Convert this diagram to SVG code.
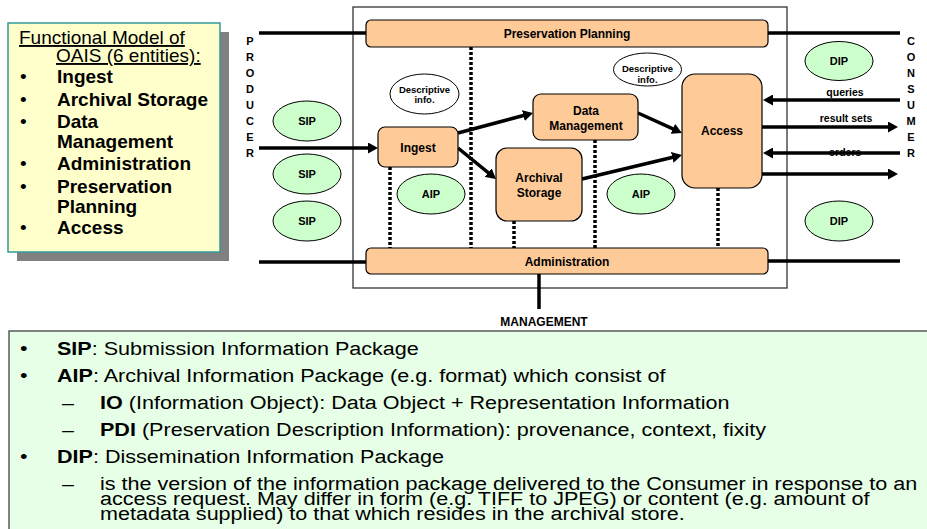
<svg xmlns="http://www.w3.org/2000/svg" width="927" height="529" viewBox="0 0 927 529">
  <style>
    text { font-family: "Liberation Sans", Arial, Helvetica, sans-serif; fill: #000; }
    .b { font-weight: bold; }
    .lbl { font-size: 12px; font-weight: bold; text-anchor: middle; }
    .pkg { font-size: 11px; font-weight: bold; text-anchor: middle; }
    .desc { font-size: 9.5px; font-weight: bold; text-anchor: middle; }
    .flow { font-size: 10.5px; font-weight: bold; text-anchor: middle; }
    .side { font-size: 11px; font-weight: bold; text-anchor: middle; }
    .box { fill: #fdca98; stroke: #000; stroke-width: 1.2; }
    .green { fill: #ccffcc; stroke: #000; stroke-width: 1; }
    .white { fill: #fff; stroke: #000; stroke-width: 1; }
    .wire { stroke: #000; stroke-width: 3.5; fill: none; }
    .arrow { stroke: #000; stroke-width: 3.5; fill: none; marker-end: url(#head); }
    .dots { stroke: #000; stroke-width: 3.5; stroke-dasharray: 3 2; fill: none; }
    .card { font-size: 19px; }
    .list { font-size: 19px; }
  </style>
  <defs>
    <marker id="head" markerUnits="userSpaceOnUse" markerWidth="10" markerHeight="11" refX="5" refY="5.5" orient="auto">
      <path d="M0,0 L10,5.5 L0,11 z" fill="#000"/>
    </marker>
  </defs>

  <rect width="927" height="529" fill="#fff"/>

  <!-- Summary card: the six functional entities -->
  <g id="entities-card">
    <rect x="17" y="32" width="212" height="229" fill="#808080"/>
    <rect x="8" y="23" width="212" height="229" fill="#ffffcc" stroke="#339999" stroke-width="1.5"/>
    <g class="card">
      <text x="19" y="44" text-decoration="underline">Functional Model of</text>
      <text x="56" y="62" text-decoration="underline">OAIS (6 entities):</text>
      <text x="20" y="83">•</text><text x="57" y="83" class="b">Ingest</text>
      <text x="20" y="106">•</text><text x="57" y="106" class="b">Archival Storage</text>
      <text x="20" y="128">•</text><text x="57" y="128" class="b">Data</text>
      <text x="57" y="148" class="b">Management</text>
      <text x="20" y="170">•</text><text x="57" y="170" class="b">Administration</text>
      <text x="20" y="193">•</text><text x="57" y="193" class="b">Preservation</text>
      <text x="57" y="213" class="b">Planning</text>
      <text x="20" y="234">•</text><text x="57" y="234" class="b">Access</text>
    </g>
  </g>

  <!-- OAIS boundary -->
  <rect id="oais-boundary" x="353" y="7" width="434" height="281" fill="none" stroke="#333" stroke-width="1.3"/>

  <!-- Producer / Consumer side labels -->
  <g id="producer">
    <text class="side" x="250" y="45">P</text>
    <text class="side" x="250" y="61">R</text>
    <text class="side" x="250" y="77">O</text>
    <text class="side" x="250" y="93">D</text>
    <text class="side" x="250" y="109">U</text>
    <text class="side" x="250" y="125">C</text>
    <text class="side" x="250" y="141">E</text>
    <text class="side" x="250" y="157">R</text>
  </g>
  <g id="consumer">
    <text class="side" x="911" y="45">C</text>
    <text class="side" x="911" y="61">O</text>
    <text class="side" x="911" y="77">N</text>
    <text class="side" x="911" y="93">S</text>
    <text class="side" x="911" y="109">U</text>
    <text class="side" x="911" y="125">M</text>
    <text class="side" x="911" y="141">E</text>
    <text class="side" x="911" y="157">R</text>
  </g>

  <!-- Connectors -->
  <g id="connectors">
    <path class="wire" d="M259,33 H366"/>
    <path class="wire" d="M768,33 H900"/>
    <path class="wire" d="M259,262 H366"/>
    <path class="wire" d="M768,261 H900"/>
    <path class="wire" d="M539,274 V309"/>

    <path class="dots" d="M390,167 V248"/>
    <path class="dots" d="M471,47 V248"/>
    <path class="dots" d="M514,221 V248"/>
    <path class="dots" d="M595,140 V248"/>
    <path class="dots" d="M718,188 V248"/>

    <path class="arrow" d="M259,148 H373"/>
    <path class="arrow" d="M458,133 L528.2,114.3"/>
    <path class="arrow" d="M458,148 L492.1,175.8"/>
    <path class="arrow" d="M638,113 L677.4,130.9"/>
    <path class="arrow" d="M582,179 L677.1,156.2"/>

    <text class="flow" x="845" y="96">queries</text>
    <text class="flow" x="846" y="122">result sets</text>
    <text class="flow" x="845" y="155.5">orders</text>
    <path class="arrow" d="M900,100 H768"/>
    <path class="arrow" d="M762,127 H893"/>
    <path class="arrow" d="M900,153 H768"/>
    <path class="arrow" d="M762,174 H893"/>

    <text class="lbl" x="544" y="326">MANAGEMENT</text>
  </g>

  <!-- Functional entities -->
  <g id="preservation-planning">
    <rect class="box" x="366" y="20" width="402" height="27" rx="5"/>
    <text class="lbl" x="567" y="37.5">Preservation Planning</text>
  </g>
  <g id="administration">
    <rect class="box" x="366" y="248" width="402" height="26" rx="5"/>
    <text class="lbl" x="567" y="265.5">Administration</text>
  </g>
  <g id="ingest">
    <rect class="box" x="378" y="127" width="80" height="40" rx="7"/>
    <text class="lbl" x="418" y="151.5">Ingest</text>
  </g>
  <g id="data-management">
    <rect class="box" x="533" y="94" width="105" height="46" rx="8"/>
    <text class="lbl" x="586" y="115">Data</text>
    <text class="lbl" x="586" y="130">Management</text>
  </g>
  <g id="archival-storage">
    <rect class="box" x="496" y="148" width="86" height="73" rx="11"/>
    <text class="lbl" x="539" y="182">Archival</text>
    <text class="lbl" x="539" y="197">Storage</text>
  </g>
  <g id="access">
    <rect class="box" x="682" y="74" width="80" height="114" rx="13"/>
    <text class="lbl" x="722" y="135">Access</text>
  </g>

  <!-- Information packages -->
  <g id="sip-1"><ellipse class="green" cx="307" cy="121" rx="34" ry="20"/><text class="pkg" x="307" y="125">SIP</text></g>
  <g id="sip-2"><ellipse class="green" cx="307" cy="174" rx="34" ry="20"/><text class="pkg" x="307" y="178">SIP</text></g>
  <g id="sip-3"><ellipse class="green" cx="307" cy="221" rx="34" ry="20"/><text class="pkg" x="307" y="225">SIP</text></g>
  <g id="aip-1"><ellipse class="green" cx="431" cy="194" rx="34" ry="20"/><text class="pkg" x="431" y="198">AIP</text></g>
  <g id="aip-2"><ellipse class="green" cx="641" cy="194" rx="34" ry="20"/><text class="pkg" x="641" y="198">AIP</text></g>
  <g id="dip-1"><ellipse class="green" cx="839" cy="61" rx="34" ry="19.5"/><text class="pkg" x="839" y="65">DIP</text></g>
  <g id="dip-2"><ellipse class="green" cx="839" cy="221" rx="34" ry="20"/><text class="pkg" x="839" y="225">DIP</text></g>
  <g id="descriptive-info-1">
    <ellipse class="white" cx="424.5" cy="94" rx="34.5" ry="20"/>
    <text class="desc" x="424.5" y="92.5">Descriptive</text>
    <text class="desc" x="424.5" y="103">info.</text>
  </g>
  <g id="descriptive-info-2">
    <ellipse class="white" cx="647.5" cy="69.5" rx="34" ry="16.5"/>
    <text class="desc" x="647.5" y="72">Descriptive</text>
    <text class="desc" x="647.5" y="82.5">info.</text>
  </g>

  <!-- Glossary panel -->
  <g id="glossary">
    <rect x="9" y="331" width="930" height="210" fill="#e6ffe6" stroke="#333" stroke-width="1.2"/>
    <g class="list" transform="scale(1.135,1)">
      <text x="17.6" y="355">•</text>
      <text x="50.2" y="355"><tspan class="b">SIP</tspan>: Submission Information Package</text>
      <text x="17.6" y="382">•</text>
      <text x="50.2" y="382"><tspan class="b">AIP</tspan>: Archival Information Package (e.g. format) which consist of</text>
      <text x="54.6" y="409">–</text>
      <text x="88.1" y="409"><tspan class="b">IO</tspan> (Information Object):  Data Object + Representation Information</text>
      <text x="54.6" y="436">–</text>
      <text x="88.1" y="436"><tspan class="b">PDI</tspan> (Preservation Description Information): provenance, context, fixity</text>
      <text x="17.6" y="463">•</text>
      <text x="50.2" y="463"><tspan class="b">DIP</tspan>: Dissemination Information Package</text>
      <text x="54.6" y="490">–</text>
      <text x="88.1" y="490">is the version of the information package delivered to the Consumer in response to an</text>
      <text x="88.1" y="505">access request. May differ in form (e.g. TIFF to JPEG) or content (e.g. amount of</text>
      <text x="88.1" y="520">metadata supplied) to that which resides in the archival store.</text>
    </g>
  </g>
</svg>
